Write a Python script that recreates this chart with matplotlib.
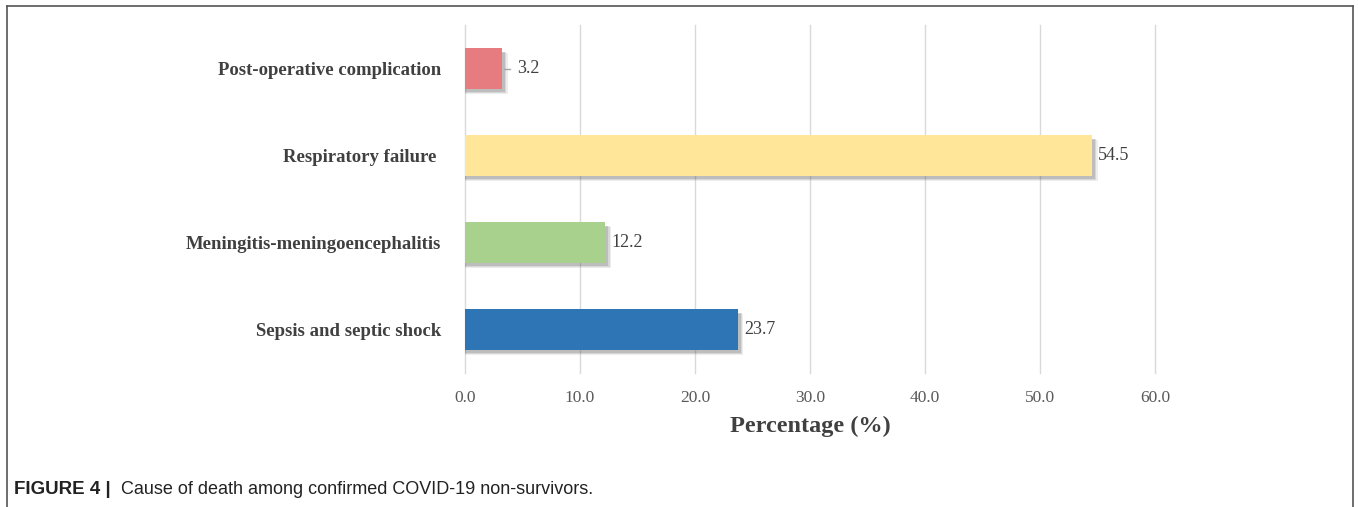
import numpy as np
import matplotlib.pyplot as plt
from matplotlib.lines import Line2D

# causes of death and percentages
causes = ['Sepsis and septic shock', 'Meningitis-meningoencephalitis',
          'Respiratory failure ', 'Post-operative complication']
pct = [23.7, 12.2, 54.5, 3.2]
colores = ['#2E75B6', '#A9D18E', '#FFE699', '#E77C80']
xticks = [0, 10, 20, 30, 40, 50, 60]

W, H = 1358, 507
fig = plt.figure(figsize=(W/100, H/100), dpi=100)
ax = fig.add_axes([465/W, 1-373/H, (1155-465)/W, (373-25)/H])

y = np.arange(len(causes))
alto = 0.47

# sombra difusa de las barras
for k, a in enumerate([0.10, 0.14, 0.20]):
    d = 0.02 * (3 - k)
    ax.barh(y - 0.03 - d/2, np.array(pct) + 0.15 + d*6, height=alto, color='#555555',
            alpha=a, zorder=2, linewidth=0)
ax.barh(y, pct, height=alto, color=colores, zorder=3, linewidth=0)

ax.set_xlim(0, 60)
ax.set_ylim(-0.5, 3.5)
ax.set_xticks(xticks)
ax.set_xticklabels(['%.1f' % t for t in xticks], family='Liberation Serif',
                   fontsize=12.5, color='#595959')
ax.set_yticks(y)
ax.set_yticklabels(causes, family='Liberation Serif', fontweight='bold',
                   fontsize=13.5, color='#404040')
ax.tick_params(axis='both', length=0)
ax.tick_params(axis='x', pad=12)
ax.tick_params(axis='y', pad=17)
ax.grid(axis='x', color='#d9d9d9', linewidth=1, zorder=0)
for g in ax.get_xgridlines():
    g.set_clip_on(False)
for s in ax.spines.values():
    s.set_visible(False)

# etiquetas de valores
for i, v in enumerate(pct):
    if v < 5:
        ax.plot([v+0.15, v+0.75], [y[i], y[i]], color='#a6a6a6', lw=1, zorder=4)
        ax.text(v+1.3, y[i], '%.1f' % v, va='center', ha='left',
                family='Liberation Serif', fontsize=13, color='#404040')
    else:
        ax.text(v+0.55, y[i], '%.1f' % v, va='center', ha='left',
                family='Liberation Serif', fontsize=13, color='#404040')

ax.set_xlabel('Percentage (%)', family='Liberation Serif', fontweight='bold',
              fontsize=17.5, color='#404040', labelpad=7)

# marco de la figura
borde = dict(color='#555555', lw=1.2)
fig.add_artist(Line2D([7/W, 7/W], [0, 1-6/H], **borde))
fig.add_artist(Line2D([7/W, 1353/W], [1-6/H, 1-6/H], **borde))
fig.add_artist(Line2D([1353/W, 1353/W], [0, 1-6/H], **borde))

fig.text(14/W, 1-489/H, 'FIGURE 4 |', family='Liberation Sans', fontweight='bold',
         fontsize=13.5, color='#222222', va='center')
fig.text(121/W, 1-489/H, 'Cause of death among confirmed COVID-19 non-survivors.',
         family='Liberation Sans', fontsize=13, color='#222222', va='center')

fig.savefig('out.png', dpi=100)
